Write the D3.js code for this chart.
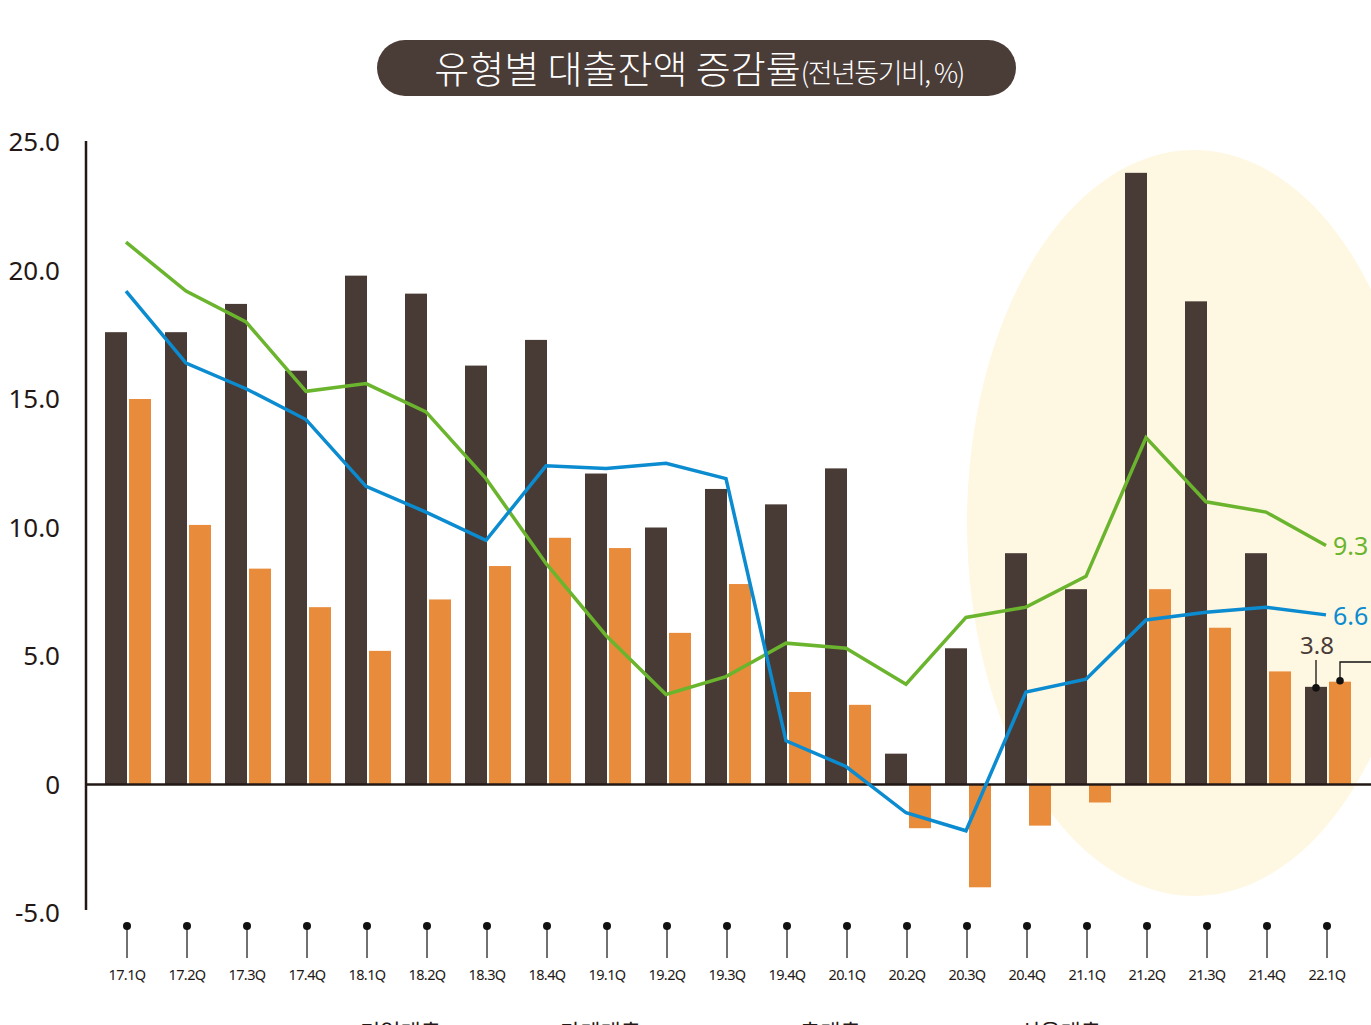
<!DOCTYPE html>
<html>
<head>
<meta charset="utf-8">
<script src="https://cdn.jsdelivr.net/npm/d3@7"></script>
<style>
  body { margin: 0; background: #fff; }
  svg { display: block; font-family: 'Noto Sans', 'Noto Sans CJK KR', sans-serif; }
</style>
</head>
<body>
<div id="wrapper"></div>
<script>
// data
const quarters = ['17.1Q','17.2Q','17.3Q','17.4Q','18.1Q','18.2Q','18.3Q','18.4Q','19.1Q','19.2Q','19.3Q',
  '19.4Q','20.1Q','20.2Q','20.3Q','20.4Q','21.1Q','21.2Q','21.3Q','21.4Q','22.1Q']
const darkBars = [17.6,17.6,18.7,16.1,19.8,19.1,16.3,17.3,12.1,10.0,11.5,10.9,12.3,1.2,5.3,9.0,7.6,23.8,18.8,9.0,3.8]
const orangeBars = [15.0,10.1,8.4,6.9,5.2,7.2,8.5,9.6,9.2,5.9,7.8,3.6,3.1,-1.7,-4.0,-1.6,-0.7,7.6,6.1,4.4,4.0]
const greenLine = [21.1,19.2,18.0,15.3,15.6,14.5,11.9,8.6,5.8,3.5,4.2,5.5,5.3,3.9,6.5,6.9,8.1,13.5,11.0,10.6,9.3]
const blueLine = [19.2,16.4,15.4,14.2,11.6,10.6,9.5,12.4,12.3,12.5,11.9,1.7,0.7,-1.1,-1.8,3.6,4.1,6.4,6.7,6.9,6.6]
const yTicks = [25, 20, 15, 10, 5, 0, -5]
const legendLabels = ['기업대출', '가계대출', '총대출', '신용대출']

const colors = {
  dark: '#483a35',
  orange: '#e88b3b',
  green: '#6bb52e',
  blue: '#0b8bd0',
  text: '#231815',
  highlight: '#fef7e1'
}

//dimensions
const width = 1371
const height = 1025
const margin = { left: 98, right: 13 }

const wrapper = d3.select('#wrapper')
  .append('svg')
    .attr('width', width)
    .attr('height', height)

//scales
const xScale = d3.scaleBand()
  .domain(quarters)
  .range([margin.left, width - margin.right])
  .padding(0)

const yScale = d3.scaleLinear()
  .domain([-5, 25])
  .range([913, 142])

const xMid = q => xScale(q) + xScale.bandwidth() / 2

//highlight ellipse for 2021
wrapper.append('ellipse')
  .attr('cx', xMid('21.3Q') - 14)
  .attr('cy', 523)
  .attr('rx', 227)
  .attr('ry', 373)
  .attr('fill', colors.highlight)

//title
wrapper.append('rect')
  .attr('x', 377).attr('y', 40)
  .attr('width', 639).attr('height', 56)
  .attr('rx', 28)
  .attr('fill', '#4a3c37')

const title = wrapper.append('text')
  .attr('x', 699).attr('y', 83)
  .attr('text-anchor', 'middle')
  .attr('fill', '#fff')
  .style('font-family', "'Noto Sans CJK KR', sans-serif")
  .style('font-weight', 300)
title.append('tspan').attr('font-size', 38).text('유형별 대출잔액 증감률')
title.append('tspan').attr('font-size', 27).attr('letter-spacing', -1.5).text('(전년동기비, %)')

//y axis labels
wrapper.append('g')
  .selectAll('text')
  .data(yTicks)
  .join('text')
    .attr('x', 60)
    .attr('y', d => yScale(d) + 9)
    .attr('text-anchor', 'end')
    .attr('font-size', 26)
    .attr('fill', colors.text)
    .text(d => d === 0 ? '0' : d.toFixed(1))

//bars
const barW = 22
const barGap = 2

wrapper.append('g')
  .selectAll('rect')
  .data(quarters)
  .join('rect')
    .attr('x', d => xMid(d) - barW - barGap / 2)
    .attr('y', (d, i) => yScale(Math.max(0, darkBars[i])))
    .attr('width', barW)
    .attr('height', (d, i) => Math.abs(yScale(darkBars[i]) - yScale(0)))
    .attr('fill', colors.dark)

wrapper.append('g')
  .selectAll('rect')
  .data(quarters)
  .join('rect')
    .attr('x', d => xMid(d) + barGap / 2)
    .attr('y', (d, i) => yScale(Math.max(0, orangeBars[i])))
    .attr('width', barW)
    .attr('height', (d, i) => Math.abs(yScale(orangeBars[i]) - yScale(0)))
    .attr('fill', colors.orange)

//axes lines
wrapper.append('line')
  .attr('x1', 86).attr('x2', 86)
  .attr('y1', 141).attr('y2', 910)
  .attr('stroke', colors.text).attr('stroke-width', 2.5)

wrapper.append('line')
  .attr('x1', 86).attr('x2', width)
  .attr('y1', yScale(0)).attr('y2', yScale(0))
  .attr('stroke', colors.text).attr('stroke-width', 2.5)

//lines
const lineGen = d3.line()
  .x((d, i) => xMid(quarters[i]) - 2)
  .y(d => yScale(d))

wrapper.append('path')
  .datum(greenLine)
  .attr('d', lineGen)
  .attr('fill', 'none')
  .attr('stroke', colors.green)
  .attr('stroke-width', 3.5)

wrapper.append('path')
  .datum(blueLine)
  .attr('d', lineGen)
  .attr('fill', 'none')
  .attr('stroke', colors.blue)
  .attr('stroke-width', 3.5)

//end labels
const last = quarters.length - 1
const lastX = xMid(quarters[last])

wrapper.append('text')
  .attr('x', lastX + 5).attr('y', yScale(greenLine[last]) + 10)
  .attr('font-size', 25).attr('fill', colors.green)
  .text(greenLine[last].toFixed(1))

wrapper.append('text')
  .attr('x', lastX + 5).attr('y', yScale(blueLine[last]) + 10)
  .attr('font-size', 25).attr('fill', colors.blue)
  .text(blueLine[last].toFixed(1))

//3.8 callout on dark bar
const darkX = xMid(quarters[last]) - barW / 2 - barGap / 2
wrapper.append('text')
  .attr('x', darkX + 1).attr('y', 654)
  .attr('text-anchor', 'middle')
  .attr('font-size', 24).attr('fill', '#4a3c37')
  .text(darkBars[last].toFixed(1))
wrapper.append('line')
  .attr('x1', darkX).attr('x2', darkX)
  .attr('y1', 660).attr('y2', yScale(darkBars[last]) + 1)
  .attr('stroke', '#111').attr('stroke-width', 1.3)
wrapper.append('circle')
  .attr('cx', darkX).attr('cy', yScale(darkBars[last]) + 1)
  .attr('r', 3.8).attr('fill', '#111')

//orange callout leader going off to the right
const orX = xMid(quarters[last]) + barW / 2 + barGap / 2
wrapper.append('path')
  .attr('d', `M${orX},${yScale(orangeBars[last]) - 1}V662H${width}`)
  .attr('fill', 'none')
  .attr('stroke', '#111').attr('stroke-width', 1.3)
wrapper.append('circle')
  .attr('cx', orX).attr('cy', yScale(orangeBars[last]) - 1)
  .attr('r', 3.8).attr('fill', '#111')

//x axis pins and labels
const pins = wrapper.append('g')
  .selectAll('g')
  .data(quarters)
  .join('g')
    .attr('transform', d => `translate(${xMid(d) - 1}, 0)`)

pins.append('circle')
  .attr('cy', 926).attr('r', 4).attr('fill', '#111')
pins.append('line')
  .attr('y1', 926).attr('y2', 958)
  .attr('stroke', '#111').attr('stroke-width', 1.2)
pins.append('text')
  .attr('y', 980)
  .attr('text-anchor', 'middle')
  .attr('font-size', 14.5)
  .attr('letter-spacing', -0.6)
  .attr('fill', colors.text)
  .text(d => d)

//legend (cropped at the bottom edge, as in the source)
const legendX = [360, 560, 800, 1020]
const legendColors = [colors.dark, colors.orange, colors.green, colors.blue]
const legend = wrapper.append('g')
  .selectAll('g')
  .data(legendLabels)
  .join('g')
    .attr('transform', (d, i) => `translate(${legendX[i]}, 1040)`)
legend.append('rect')
  .attr('x', -24).attr('y', -12)
  .attr('width', 16).attr('height', 16)
  .attr('fill', (d, i) => legendColors[i])
legend.append('text')
  .attr('font-size', 22)
  .attr('fill', colors.text)
  .style('font-family', "'Noto Sans CJK KR', sans-serif")
  .text(d => d)
</script>
</body>
</html>
